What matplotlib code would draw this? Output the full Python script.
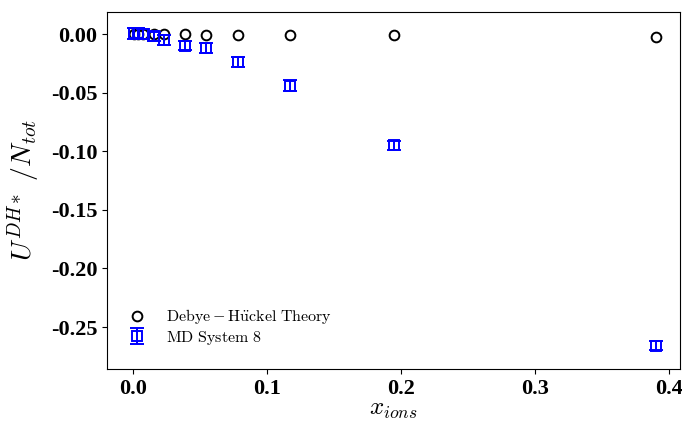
import matplotlib
matplotlib.use("Agg")
import matplotlib.pyplot as plt

plt.rcParams['mathtext.fontset'] = 'cm'
plt.rcParams['font.family'] = ['Liberation Serif', 'DejaVu Serif']

x_ions = [0.0005, 0.0039, 0.0078, 0.0156, 0.0234, 0.039, 0.0545, 0.078, 0.117, 0.195, 0.39]
u_dh = [0.0, 0.0, 0.0, -0.0001, -0.0002, -0.0003, -0.0004, -0.0005, -0.0008, -0.0012, -0.0027]
u_md = [0.0005, 0.0005, 0.0, -0.002, -0.005, -0.010, -0.012, -0.024, -0.044, -0.095, -0.266]
u_md_err = [0.005, 0.005, 0.004, 0.004, 0.004, 0.004, 0.004, 0.004, 0.005, 0.004, 0.004]
x_ticks = [0.0, 0.1, 0.2, 0.3, 0.4]
y_ticks = [0.0, -0.05, -0.10, -0.15, -0.20, -0.25]
y_ticklabels = ['0.00', '-0.05', '-0.10', '-0.15', '-0.20', '-0.25']

fig = plt.figure(figsize=(6.82, 4.21), dpi=100)
ax = fig.add_axes([107/682, 1-369/421, (680-107)/682, (369-12)/421])

ax.plot(x_ions, u_dh, 'o', mfc='none', mec='black', ms=7, mew=1.4,
        label=r'$\mathrm{Debye-H\ddot{u}ckel\ Theory}$')
ax.errorbar(x_ions, u_md, yerr=u_md_err, fmt='s', mfc='none', mec='blue', color='blue',
            ms=7, mew=1.4, capsize=5, elinewidth=1.4, capthick=1.4,
            label=r'$\mathrm{MD\ System\ 8}$')

ax.set_xlim(-0.0194, 0.4082)
ax.set_ylim(-0.2858, 0.0188)
ax.set_xticks(x_ticks)
ax.set_yticks(y_ticks)
ax.set_yticklabels(y_ticklabels)
for lab in ax.get_xticklabels() + ax.get_yticklabels():
    lab.set_fontweight('bold')
    lab.set_fontsize(16)

ax.set_xlabel(r'$x_{ions}$', fontsize=18, labelpad=0)
ax.set_ylabel(r'$U^{DH*}\ /N_{tot}$', fontsize=20, labelpad=6)
ax.legend(loc='lower left', bbox_to_anchor=(-8/573, 0), frameon=False, fontsize=11.5,
          handletextpad=0.8, borderaxespad=1.0, labelspacing=0.15)

fig.savefig('out.png', dpi=100)
